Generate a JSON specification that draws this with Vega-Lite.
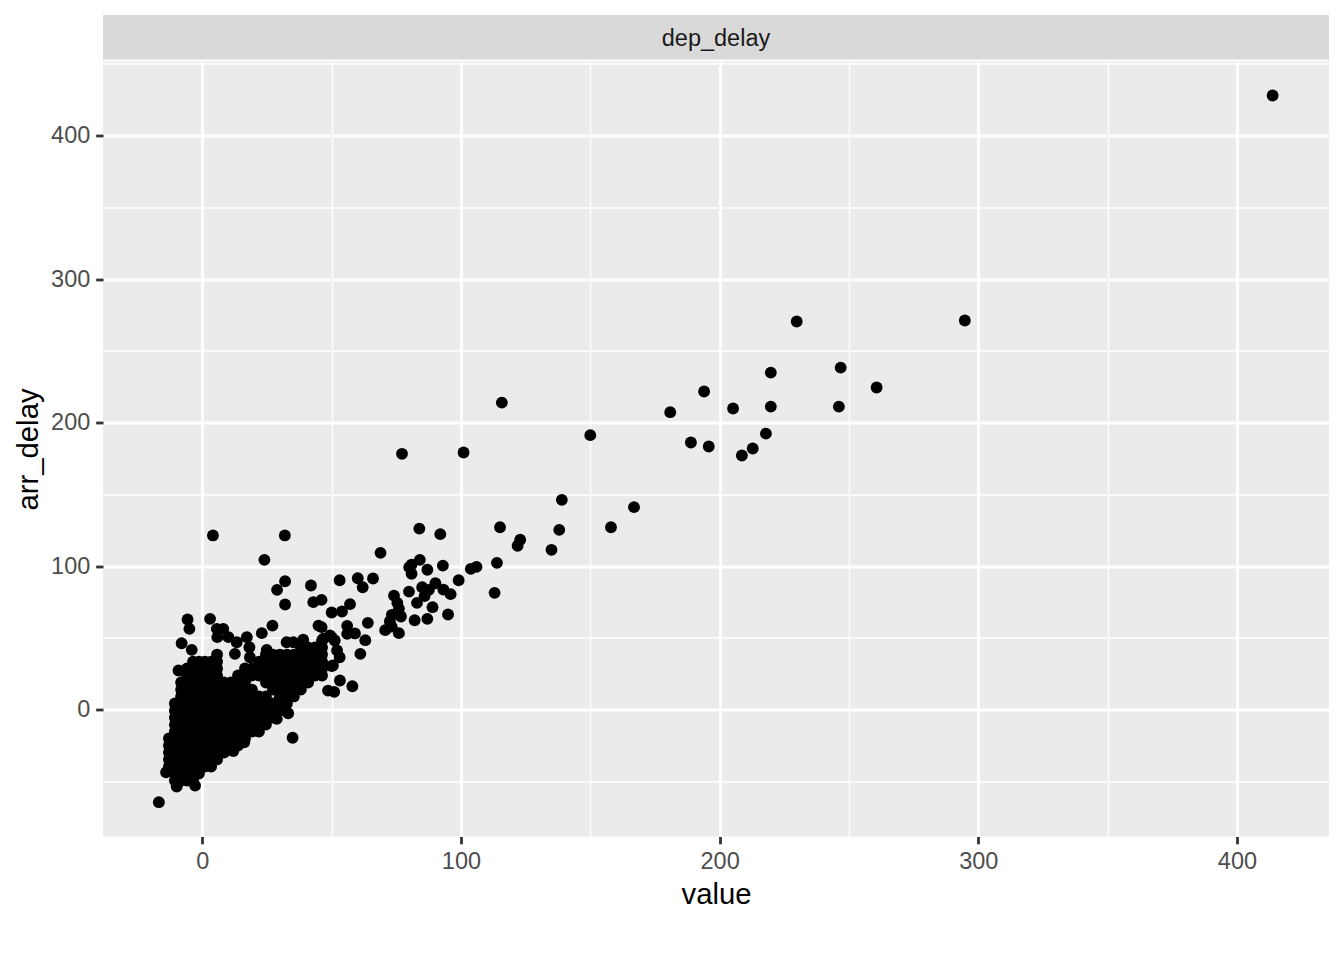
{
  "$schema": "https://vega.github.io/schema/vega-lite/v6.json",
  "background": "white",
  "autosize": {"type": "pad"},
  "padding": {"left": 14, "top": 15, "right": 0, "bottom": 0},
  "config": {"font": "Liberation Sans"},
  "spacing": 1.5,
  "bounds": "flush",
  "vconcat": [
    {
      "width": 1226,
      "height": 44.5,
      "view": {"fill": "#d9d9d9", "stroke": null},
      "data": {"values": [{"panel": "dep_delay"}]},
      "mark": {"type": "text", "fontSize": 23.5, "color": "#1a1a1a", "font": "Liberation Sans", "dy": 1.5},
      "encoding": {"text": {"field": "panel"}}
    },
    {
      "width": 1226,
      "height": 775,
      "view": {"fill": "#ebebeb", "stroke": null},
      "data": {"values": [
        {"value":413.8,"arr_delay":427.9},{"value":294.8,"arr_delay":271.1},{"value":229.8,"arr_delay":270.4},
        {"value":246.8,"arr_delay":238.3},{"value":260.7,"arr_delay":224.4},{"value":219.8,"arr_delay":234.8},
        {"value":194.0,"arr_delay":221.6},{"value":205.2,"arr_delay":209.8},{"value":219.8,"arr_delay":211.1},
        {"value":246.1,"arr_delay":211.1},{"value":180.9,"arr_delay":207.2},{"value":115.8,"arr_delay":213.9},
        {"value":150.0,"arr_delay":191.2},{"value":217.9,"arr_delay":192.3},{"value":188.9,"arr_delay":186.1},
        {"value":195.8,"arr_delay":183.3},{"value":212.8,"arr_delay":181.9},{"value":208.6,"arr_delay":177.0},
        {"value":77.2,"arr_delay":178.2},{"value":101.0,"arr_delay":179.1},{"value":139.0,"arr_delay":146.1},
        {"value":166.9,"arr_delay":141.0},{"value":158.0,"arr_delay":127.0},{"value":115.1,"arr_delay":127.0},
        {"value":138.0,"arr_delay":125.2},{"value":83.9,"arr_delay":126.1},{"value":92.0,"arr_delay":122.2},
        {"value":122.9,"arr_delay":118.3},{"value":121.9,"arr_delay":114.1},{"value":135.0,"arr_delay":111.3},
        {"value":68.9,"arr_delay":109.2},{"value":113.9,"arr_delay":102.2},{"value":106.0,"arr_delay":99.4},
        {"value":103.8,"arr_delay":98.0},{"value":99.1,"arr_delay":90.1},{"value":93.0,"arr_delay":100.3},
        {"value":87.0,"arr_delay":97.4},{"value":84.1,"arr_delay":104.3},{"value":80.9,"arr_delay":101.0},
        {"value":80.0,"arr_delay":99.2},{"value":80.9,"arr_delay":94.6},{"value":113.0,"arr_delay":81.3},
        {"value":90.1,"arr_delay":88.0},{"value":93.2,"arr_delay":83.6},{"value":96.0,"arr_delay":80.4},
        {"value":85.0,"arr_delay":85.2},{"value":87.6,"arr_delay":83.4},{"value":85.9,"arr_delay":79.0},
        {"value":79.9,"arr_delay":82.2},{"value":74.1,"arr_delay":79.4},{"value":83.0,"arr_delay":74.3},
        {"value":75.4,"arr_delay":74.3},{"value":76.0,"arr_delay":70.2},{"value":89.0,"arr_delay":71.3},
        {"value":95.0,"arr_delay":66.2},{"value":87.0,"arr_delay":63.2},{"value":82.1,"arr_delay":62.2},
        {"value":73.3,"arr_delay":66.0},{"value":76.8,"arr_delay":64.8},{"value":72.5,"arr_delay":61.5},
        {"value":70.7,"arr_delay":55.3},{"value":73.2,"arr_delay":57.8},{"value":76.0,"arr_delay":53.2},
        {"value":66.0,"arr_delay":91.3},{"value":62.0,"arr_delay":85.2},{"value":60.1,"arr_delay":91.5},
        {"value":53.1,"arr_delay":90.1},{"value":57.1,"arr_delay":73.4},{"value":54.0,"arr_delay":68.3},
        {"value":50.0,"arr_delay":67.6},{"value":64.0,"arr_delay":60.4},{"value":56.0,"arr_delay":58.3},
        {"value":59.0,"arr_delay":53.0},{"value":56.0,"arr_delay":52.7},{"value":63.0,"arr_delay":48.3},
        {"value":51.2,"arr_delay":48.1},{"value":61.1,"arr_delay":38.8},{"value":53.1,"arr_delay":36.4},
        {"value":50.0,"arr_delay":30.2},{"value":58.0,"arr_delay":16.2},{"value":51.0,"arr_delay":12.3},
        {"value":4.1,"arr_delay":121.3},{"value":31.9,"arr_delay":121.3},{"value":24.0,"arr_delay":104.3},
        {"value":32.0,"arr_delay":89.4},{"value":28.9,"arr_delay":83.4},{"value":32.0,"arr_delay":73.2},
        {"value":42.0,"arr_delay":86.4},{"value":42.9,"arr_delay":74.8},{"value":46.1,"arr_delay":76.4},
        {"value":-5.7,"arr_delay":62.7},{"value":-5.0,"arr_delay":56.2},{"value":3.0,"arr_delay":63.2},
        {"value":-8.0,"arr_delay":46.2},{"value":-4.1,"arr_delay":41.6},{"value":5.6,"arr_delay":56.2},
        {"value":8.1,"arr_delay":56.2},{"value":10.1,"arr_delay":50.4},{"value":5.8,"arr_delay":50.4},
        {"value":13.3,"arr_delay":46.9},{"value":17.2,"arr_delay":50.4},{"value":18.2,"arr_delay":43.4},
        {"value":23.0,"arr_delay":53.2},{"value":27.1,"arr_delay":58.5},{"value":24.9,"arr_delay":41.6},
        {"value":32.6,"arr_delay":46.9},{"value":35.2,"arr_delay":46.9},{"value":39.0,"arr_delay":48.6},
        {"value":44.9,"arr_delay":58.5},{"value":46.1,"arr_delay":57.4},{"value":50.0,"arr_delay":50.4},
        {"value":34.9,"arr_delay":-19.7},{"value":-16.8,"arr_delay":-64.6},{"value":-14.0,"arr_delay":-43.7},
        {"value":-9.9,"arr_delay":-53.7},{"value":-2.8,"arr_delay":-53.0},{"value":-9.2,"arr_delay":27.2},
        {"value":5.2,"arr_delay":-34.4},{"value":12.0,"arr_delay":-29.0},{"value":16.2,"arr_delay":-22.8},
        {"value":20.4,"arr_delay":-14.6},{"value":28.8,"arr_delay":-6.5},{"value":33.2,"arr_delay":-2.6},
        {"value":18.4,"arr_delay":36.4},{"value":12.6,"arr_delay":38.8},{"value":46.8,"arr_delay":49.3},
        {"value":49.3,"arr_delay":51.6},{"value":52.1,"arr_delay":41.1},{"value":50.5,"arr_delay":30.7},
        {"value":53.2,"arr_delay":20.2},{"value":48.6,"arr_delay":13.2},
        {"value":-12.9,"arr_delay":-20.2},{"value":-12.9,"arr_delay":-25.1},{"value":-12.9,"arr_delay":-30.0},{"value":-12.9,"arr_delay":-34.8},{"value":-12.9,"arr_delay":-39.7},
        {"value":-10.6,"arr_delay":4.2},{"value":-10.6,"arr_delay":-0.7},{"value":-10.6,"arr_delay":-5.6},{"value":-10.6,"arr_delay":-10.5},{"value":-10.6,"arr_delay":-15.3},{"value":-10.6,"arr_delay":-20.2},{"value":-10.6,"arr_delay":-25.1},{"value":-10.6,"arr_delay":-30.0},{"value":-10.6,"arr_delay":-34.8},{"value":-10.6,"arr_delay":-39.7},{"value":-10.6,"arr_delay":-44.6},{"value":-10.6,"arr_delay":-49.5},
        {"value":-8.2,"arr_delay":18.8},{"value":-8.2,"arr_delay":13.9},{"value":-8.2,"arr_delay":9.1},{"value":-8.2,"arr_delay":4.2},{"value":-8.2,"arr_delay":-0.7},{"value":-8.2,"arr_delay":-5.6},{"value":-8.2,"arr_delay":-10.5},{"value":-8.2,"arr_delay":-15.3},{"value":-8.2,"arr_delay":-20.2},{"value":-8.2,"arr_delay":-25.1},{"value":-8.2,"arr_delay":-30.0},{"value":-8.2,"arr_delay":-34.8},{"value":-8.2,"arr_delay":-39.7},{"value":-8.2,"arr_delay":-44.6},{"value":-8.2,"arr_delay":-49.5},
        {"value":-5.9,"arr_delay":28.6},{"value":-5.9,"arr_delay":23.7},{"value":-5.9,"arr_delay":18.8},{"value":-5.9,"arr_delay":13.9},{"value":-5.9,"arr_delay":9.1},{"value":-5.9,"arr_delay":4.2},{"value":-5.9,"arr_delay":-0.7},{"value":-5.9,"arr_delay":-5.6},{"value":-5.9,"arr_delay":-10.5},{"value":-5.9,"arr_delay":-15.3},{"value":-5.9,"arr_delay":-20.2},{"value":-5.9,"arr_delay":-25.1},{"value":-5.9,"arr_delay":-30.0},{"value":-5.9,"arr_delay":-34.8},{"value":-5.9,"arr_delay":-39.7},{"value":-5.9,"arr_delay":-44.6},{"value":-5.9,"arr_delay":-49.5},
        {"value":-3.6,"arr_delay":33.4},{"value":-3.6,"arr_delay":28.6},{"value":-3.6,"arr_delay":23.7},{"value":-3.6,"arr_delay":18.8},{"value":-3.6,"arr_delay":13.9},{"value":-3.6,"arr_delay":9.1},{"value":-3.6,"arr_delay":4.2},{"value":-3.6,"arr_delay":-0.7},{"value":-3.6,"arr_delay":-5.6},{"value":-3.6,"arr_delay":-10.5},{"value":-3.6,"arr_delay":-15.3},{"value":-3.6,"arr_delay":-20.2},{"value":-3.6,"arr_delay":-25.1},{"value":-3.6,"arr_delay":-30.0},{"value":-3.6,"arr_delay":-34.8},{"value":-3.6,"arr_delay":-39.7},{"value":-3.6,"arr_delay":-44.6},{"value":-3.6,"arr_delay":-49.5},
        {"value":-1.3,"arr_delay":33.4},{"value":-1.3,"arr_delay":28.6},{"value":-1.3,"arr_delay":23.7},{"value":-1.3,"arr_delay":18.8},{"value":-1.3,"arr_delay":13.9},{"value":-1.3,"arr_delay":9.1},{"value":-1.3,"arr_delay":4.2},{"value":-1.3,"arr_delay":-0.7},{"value":-1.3,"arr_delay":-5.6},{"value":-1.3,"arr_delay":-10.5},{"value":-1.3,"arr_delay":-15.3},{"value":-1.3,"arr_delay":-20.2},{"value":-1.3,"arr_delay":-25.1},{"value":-1.3,"arr_delay":-30.0},{"value":-1.3,"arr_delay":-34.8},{"value":-1.3,"arr_delay":-39.7},{"value":-1.3,"arr_delay":-44.6},
        {"value":1.0,"arr_delay":33.4},{"value":1.0,"arr_delay":28.6},{"value":1.0,"arr_delay":23.7},{"value":1.0,"arr_delay":18.8},{"value":1.0,"arr_delay":13.9},{"value":1.0,"arr_delay":9.1},{"value":1.0,"arr_delay":4.2},{"value":1.0,"arr_delay":-0.7},{"value":1.0,"arr_delay":-5.6},{"value":1.0,"arr_delay":-10.5},{"value":1.0,"arr_delay":-15.3},{"value":1.0,"arr_delay":-20.2},{"value":1.0,"arr_delay":-25.1},{"value":1.0,"arr_delay":-30.0},{"value":1.0,"arr_delay":-34.8},{"value":1.0,"arr_delay":-39.7},
        {"value":3.4,"arr_delay":33.4},{"value":3.4,"arr_delay":28.6},{"value":3.4,"arr_delay":23.7},{"value":3.4,"arr_delay":18.8},{"value":3.4,"arr_delay":13.9},{"value":3.4,"arr_delay":9.1},{"value":3.4,"arr_delay":4.2},{"value":3.4,"arr_delay":-0.7},{"value":3.4,"arr_delay":-5.6},{"value":3.4,"arr_delay":-10.5},{"value":3.4,"arr_delay":-15.3},{"value":3.4,"arr_delay":-20.2},{"value":3.4,"arr_delay":-25.1},{"value":3.4,"arr_delay":-30.0},{"value":3.4,"arr_delay":-34.8},{"value":3.4,"arr_delay":-39.7},
        {"value":5.7,"arr_delay":38.3},{"value":5.7,"arr_delay":33.4},{"value":5.7,"arr_delay":28.6},{"value":5.7,"arr_delay":23.7},{"value":5.7,"arr_delay":18.8},{"value":5.7,"arr_delay":13.9},{"value":5.7,"arr_delay":9.1},{"value":5.7,"arr_delay":4.2},{"value":5.7,"arr_delay":-0.7},{"value":5.7,"arr_delay":-5.6},{"value":5.7,"arr_delay":-10.5},{"value":5.7,"arr_delay":-15.3},{"value":5.7,"arr_delay":-20.2},{"value":5.7,"arr_delay":-25.1},{"value":5.7,"arr_delay":-30.0},{"value":5.7,"arr_delay":-34.8},
        {"value":8.4,"arr_delay":18.8},{"value":8.4,"arr_delay":13.9},{"value":8.4,"arr_delay":9.1},{"value":8.4,"arr_delay":4.2},{"value":8.4,"arr_delay":-0.7},{"value":8.4,"arr_delay":-5.6},{"value":8.4,"arr_delay":-10.5},{"value":8.4,"arr_delay":-15.3},{"value":8.4,"arr_delay":-20.2},{"value":8.4,"arr_delay":-25.1},{"value":8.4,"arr_delay":-30.0},
        {"value":11.1,"arr_delay":18.8},{"value":11.1,"arr_delay":13.9},{"value":11.1,"arr_delay":9.1},{"value":11.1,"arr_delay":4.2},{"value":11.1,"arr_delay":-0.7},{"value":11.1,"arr_delay":-5.6},{"value":11.1,"arr_delay":-10.5},{"value":11.1,"arr_delay":-15.3},{"value":11.1,"arr_delay":-20.2},{"value":11.1,"arr_delay":-25.1},
        {"value":13.8,"arr_delay":23.7},{"value":13.8,"arr_delay":18.8},{"value":13.8,"arr_delay":13.9},{"value":13.8,"arr_delay":9.1},{"value":13.8,"arr_delay":4.2},{"value":13.8,"arr_delay":-0.7},{"value":13.8,"arr_delay":-5.6},{"value":13.8,"arr_delay":-10.5},{"value":13.8,"arr_delay":-15.3},{"value":13.8,"arr_delay":-20.2},{"value":13.8,"arr_delay":-25.1},
        {"value":16.5,"arr_delay":28.6},{"value":16.5,"arr_delay":23.7},{"value":16.5,"arr_delay":18.8},{"value":16.5,"arr_delay":13.9},{"value":16.5,"arr_delay":9.1},{"value":16.5,"arr_delay":4.2},{"value":16.5,"arr_delay":-0.7},{"value":16.5,"arr_delay":-5.6},{"value":16.5,"arr_delay":-10.5},{"value":16.5,"arr_delay":-15.3},{"value":16.5,"arr_delay":-20.2},
        {"value":19.2,"arr_delay":28.6},{"value":19.2,"arr_delay":23.7},{"value":19.2,"arr_delay":13.9},{"value":19.2,"arr_delay":9.1},{"value":19.2,"arr_delay":4.2},{"value":19.2,"arr_delay":-0.7},{"value":19.2,"arr_delay":-5.6},{"value":19.2,"arr_delay":-10.5},{"value":19.2,"arr_delay":-15.3},
        {"value":21.9,"arr_delay":33.4},{"value":21.9,"arr_delay":28.6},{"value":21.9,"arr_delay":23.7},{"value":21.9,"arr_delay":9.1},{"value":21.9,"arr_delay":4.2},{"value":21.9,"arr_delay":-0.7},{"value":21.9,"arr_delay":-5.6},{"value":21.9,"arr_delay":-10.5},{"value":21.9,"arr_delay":-15.3},
        {"value":24.6,"arr_delay":38.3},{"value":24.6,"arr_delay":33.4},{"value":24.6,"arr_delay":28.6},{"value":24.6,"arr_delay":23.7},{"value":24.6,"arr_delay":18.8},{"value":24.6,"arr_delay":9.1},{"value":24.6,"arr_delay":4.2},{"value":24.6,"arr_delay":-0.7},{"value":24.6,"arr_delay":-5.6},{"value":24.6,"arr_delay":-10.5},
        {"value":27.3,"arr_delay":38.3},{"value":27.3,"arr_delay":33.4},{"value":27.3,"arr_delay":28.6},{"value":27.3,"arr_delay":23.7},{"value":27.3,"arr_delay":18.8},{"value":27.3,"arr_delay":13.9},{"value":27.3,"arr_delay":4.2},{"value":27.3,"arr_delay":-0.7},{"value":27.3,"arr_delay":-5.6},
        {"value":30.0,"arr_delay":38.3},{"value":30.0,"arr_delay":33.4},{"value":30.0,"arr_delay":28.6},{"value":30.0,"arr_delay":23.7},{"value":30.0,"arr_delay":18.8},{"value":30.0,"arr_delay":13.9},{"value":30.0,"arr_delay":9.1},{"value":30.0,"arr_delay":4.2},{"value":30.0,"arr_delay":-0.7},
        {"value":32.7,"arr_delay":38.3},{"value":32.7,"arr_delay":33.4},{"value":32.7,"arr_delay":28.6},{"value":32.7,"arr_delay":23.7},{"value":32.7,"arr_delay":18.8},{"value":32.7,"arr_delay":13.9},{"value":32.7,"arr_delay":9.1},{"value":32.7,"arr_delay":4.2},
        {"value":35.4,"arr_delay":38.3},{"value":35.4,"arr_delay":33.4},{"value":35.4,"arr_delay":28.6},{"value":35.4,"arr_delay":23.7},{"value":35.4,"arr_delay":18.8},{"value":35.4,"arr_delay":13.9},{"value":35.4,"arr_delay":9.1},
        {"value":38.1,"arr_delay":43.2},{"value":38.1,"arr_delay":38.3},{"value":38.1,"arr_delay":33.4},{"value":38.1,"arr_delay":28.6},{"value":38.1,"arr_delay":23.7},{"value":38.1,"arr_delay":18.8},{"value":38.1,"arr_delay":13.9},
        {"value":40.9,"arr_delay":43.2},{"value":40.9,"arr_delay":38.3},{"value":40.9,"arr_delay":33.4},{"value":40.9,"arr_delay":28.6},{"value":40.9,"arr_delay":23.7},{"value":40.9,"arr_delay":18.8},
        {"value":43.6,"arr_delay":43.2},{"value":43.6,"arr_delay":38.3},{"value":43.6,"arr_delay":33.4},{"value":43.6,"arr_delay":28.6},{"value":43.6,"arr_delay":23.7},
        {"value":46.3,"arr_delay":48.1},{"value":46.3,"arr_delay":43.2},{"value":46.3,"arr_delay":38.3},{"value":46.3,"arr_delay":33.4},{"value":46.3,"arr_delay":28.6},{"value":46.3,"arr_delay":23.7}
      ]},
      "mark": {"type": "circle", "size": 140, "opacity": 1, "color": "#000000"},
      "encoding": {
        "x": {
          "field": "value", "type": "quantitative",
          "scale": {"domain": [-38.4, 435.6], "nice": false, "zero": false},
          "axis": {
            "values": [0, 50, 100, 150, 200, 250, 300, 350, 400],
            "labelExpr": "datum.value % 100 === 0 ? datum.label : ''",
            "grid": true, "gridColor": "#ffffff",
            "gridWidth": {"condition": {"test": "datum.value % 100 === 0", "value": 2.8}, "value": 1.4},
            "domain": false,
            "tickSize": 7.3, "tickColor": "#333333", "tickWidth": 2.8,
            "tickOpacity": {"condition": {"test": "datum.value % 100 === 0", "value": 1}, "value": 0},
            "labelPadding": 5.9, "labelFontSize": 23.5, "labelColor": "#4d4d4d", "labelFont": "Liberation Sans",
            "labelFlush": false, "labelOverlap": false,
            "title": "value", "titleFontSize": 29.3, "titleColor": "#000000", "titleFontWeight": "normal",
            "titleFont": "Liberation Sans", "titlePadding": 7.3
          }
        },
        "y": {
          "field": "arr_delay", "type": "quantitative",
          "scale": {"domain": [-88.5, 451.6], "nice": false, "zero": false},
          "axis": {
            "values": [-50, 0, 50, 100, 150, 200, 250, 300, 350, 400, 450],
            "labelExpr": "datum.value % 100 === 0 ? datum.label : ''",
            "grid": true, "gridColor": "#ffffff",
            "gridWidth": {"condition": {"test": "datum.value % 100 === 0", "value": 2.8}, "value": 1.4},
            "domain": false,
            "tickSize": 7.3, "tickColor": "#333333", "tickWidth": 2.8,
            "tickOpacity": {"condition": {"test": "datum.value % 100 === 0", "value": 1}, "value": 0},
            "labelPadding": 5.9, "labelFontSize": 23.5, "labelColor": "#4d4d4d", "labelFont": "Liberation Sans",
            "labelFlush": false, "labelOverlap": false,
            "title": "arr_delay", "titleFontSize": 29.3, "titleColor": "#000000", "titleFontWeight": "normal",
            "titleFont": "Liberation Sans", "titlePadding": 7.3
          }
        }
      }
    }
  ]
}
